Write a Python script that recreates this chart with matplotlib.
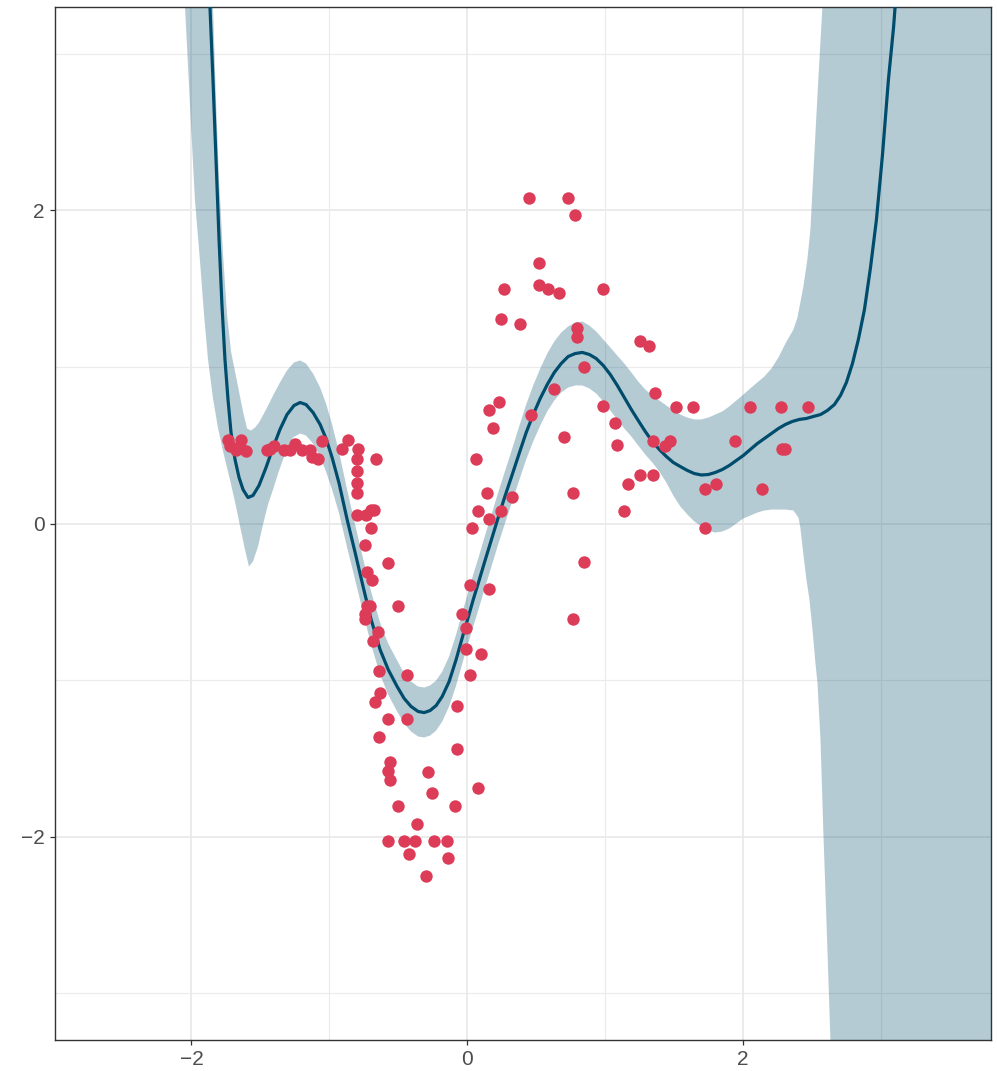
import matplotlib.pyplot as plt
import numpy as np

pt_x = [-1.737, -1.721, -1.679, -1.641, -1.607, -1.648, -1.454, -1.430, -1.401, -1.328,
        -1.285, -1.249, -1.198, -1.140, -1.127, -1.082, -1.053,
        -0.910, -0.862, -0.789, -0.801, -0.663, -0.801, -0.801, -0.801, -0.801, -0.735,
        -0.699, -0.679, -0.697, -0.740, -0.571, -0.728, -0.692, -0.704, -0.726, -0.499,
        -0.740, -0.740, -0.648, -0.680, -0.637, -0.438, 0.022, -0.632, -0.668, -0.075,
        -0.571, -0.438, -0.637, -0.075, -0.559, -0.571, -0.559, -0.285, -0.256, 0.082,
        -0.499, -0.087, -0.361, -0.576, -0.455, -0.377, -0.240, -0.147, -0.421, -0.136,
        -0.300,
        -0.038, -0.009, -0.009, 0.099, 0.022, 0.160, 0.034, 0.082, 0.160, 0.247, 0.143,
        0.325, 0.065, 0.187, 0.160, 0.234, 0.462, 0.632, 0.706, 0.767, 0.844, 0.767,
        0.844, 0.796, 0.796, 0.247, 0.385, 0.264, 0.523, 0.583, 0.663, 0.523, 0.982,
        0.445, 0.735, 0.779,
        0.982, 1.074, 1.087, 1.167, 1.135, 1.256, 1.316, 1.360, 1.256, 1.348, 1.348,
        1.437, 1.474, 1.515, 1.636, 1.728, 1.805, 1.728, 1.940, 2.049, 2.139, 2.277,
        2.473, 2.285, 2.309]
pt_y = [0.532, 0.498, 0.468, 0.532, 0.466, 0.490, 0.468, 0.473, 0.498, 0.468,
        0.468, 0.505, 0.468, 0.468, 0.422, 0.415, 0.526,
        0.473, 0.532, 0.473, 0.415, 0.415, 0.334, 0.256, 0.198, 0.053, 0.053,
        0.085, 0.085, -0.027, -0.139, -0.251, -0.309, -0.364, -0.524, -0.524, -0.524,
        -0.581, -0.613, -0.692, -0.748, -0.944, -0.971, -0.969, -1.082, -1.139, -1.167,
        -1.248, -1.248, -1.363, -1.440, -1.523, -1.583, -1.636, -1.585, -1.721, -1.691,
        -1.802, -1.802, -1.917, -2.026, -2.026, -2.026, -2.026, -2.026, -2.109, -2.136,
        -2.249,
        -0.581, -0.666, -0.805, -0.833, -0.390, -0.417, -0.027, 0.083, 0.026, 0.083, 0.196,
        0.168, 0.415, 0.607, 0.724, 0.775, 0.696, 0.861, 0.554, 0.196, -0.247, -0.609,
        0.999, 1.193, 1.250, 1.304, 1.276, 1.500, 1.527, 1.500, 1.470, 1.666, 1.500,
        2.081, 2.081, 1.968,
        0.750, 0.639, 0.500, 0.254, 0.083, 1.165, 1.133, 0.831, 0.307, 0.307, 0.526,
        0.498, 0.526, 0.746, 0.746, 0.222, 0.254, -0.027, 0.526, 0.746, 0.222, 0.746,
        0.746, 0.473, 0.473]

# fitted mean curve
fit_x = [-1.873, -1.866, -1.844, -1.822, -1.800, -1.779, -1.757, -1.735, -1.713, -1.684,
         -1.655, -1.626, -1.590, -1.554, -1.510, -1.459, -1.408, -1.358, -1.307, -1.256,
         -1.212, -1.169, -1.118, -1.067, -1.024, -0.980, -0.929, -0.871, -0.813, -0.755,
         -0.697, -0.632, -0.573, -0.508, -0.457, -0.407, -0.356, -0.312, -0.269, -0.225,
         -0.181, -0.131, -0.080, -0.029, 0.007, 0.044, 0.080, 0.123, 0.174, 0.225,
         0.276, 0.327, 0.377, 0.428, 0.479, 0.530, 0.581, 0.632, 0.682, 0.733,
         0.784, 0.835, 0.886, 0.936, 0.987, 1.038, 1.089, 1.140, 1.191, 1.241,
         1.292, 1.343, 1.394, 1.445, 1.495, 1.546, 1.597, 1.648, 1.699, 1.750,
         1.800, 1.851, 1.902, 1.953, 2.004, 2.054, 2.105, 2.156, 2.207, 2.258,
         2.309, 2.359, 2.410, 2.461, 2.512, 2.563, 2.613, 2.664, 2.708, 2.751,
         2.795, 2.838, 2.882, 2.926, 2.969, 3.013, 3.056, 3.093, 3.122]
fit_y = [3.540, 3.304, 2.837, 2.326, 1.815, 1.399, 1.048, 0.792, 0.581, 0.409,
         0.294, 0.217, 0.166, 0.179, 0.243, 0.358, 0.486, 0.601, 0.696, 0.754,
         0.773, 0.760, 0.709, 0.633, 0.543, 0.422, 0.256, 0.026, -0.185, -0.403,
         -0.613, -0.805, -0.933, -1.042, -1.118, -1.169, -1.201, -1.208, -1.195, -1.163,
         -1.105, -1.010, -0.869, -0.709, -0.601, -0.486, -0.383, -0.256, -0.109, 0.038,
         0.179, 0.313, 0.447, 0.581, 0.696, 0.799, 0.888, 0.965, 1.022, 1.067,
         1.086, 1.093, 1.080, 1.054, 1.010, 0.952, 0.882, 0.805, 0.728, 0.658,
         0.588, 0.524, 0.473, 0.428, 0.390, 0.364, 0.339, 0.319, 0.310, 0.313,
         0.326, 0.345, 0.371, 0.403, 0.435, 0.473, 0.511, 0.543, 0.575, 0.607,
         0.633, 0.652, 0.665, 0.671, 0.684, 0.696, 0.722, 0.760, 0.818, 0.901,
         1.022, 1.176, 1.367, 1.636, 1.942, 2.358, 2.837, 3.169, 3.508]

# confidence band, upper edge (left to right)
hi_x = [-1.851, -1.844, -1.822, -1.800, -1.771, -1.742, -1.713, -1.684, -1.655, -1.626,
        -1.597, -1.568, -1.539, -1.510, -1.459, -1.408, -1.358, -1.307, -1.256, -1.212,
        -1.169, -1.118, -1.067, -1.024, -0.980, -0.929, -0.871, -0.813, -0.755, -0.697,
        -0.632, -0.573, -0.508, -0.457, -0.407, -0.356, -0.312, -0.269, -0.225, -0.181,
        -0.131, -0.080, -0.029, 0.007, 0.044, 0.080, 0.123, 0.174, 0.225, 0.276,
        0.327, 0.377, 0.428, 0.479, 0.530, 0.581, 0.632, 0.682, 0.733, 0.784,
        0.835, 0.886, 0.936, 0.987, 1.038, 1.089, 1.140, 1.191, 1.241, 1.292,
        1.343, 1.394, 1.445, 1.495, 1.546, 1.597, 1.648, 1.699, 1.750, 1.800,
        1.851, 1.902, 1.953, 2.004, 2.054, 2.105, 2.156, 2.207, 2.258, 2.309,
        2.367, 2.396, 2.439, 2.468, 2.490, 2.512, 2.541, 2.577, 2.599, 3.900]
hi_y = [3.540, 3.304, 2.709, 2.198, 1.719, 1.335, 1.099, 0.971, 0.843, 0.716,
        0.607, 0.594, 0.613, 0.645, 0.728, 0.818, 0.901, 0.978, 1.029, 1.042,
        1.022, 0.958, 0.869, 0.767, 0.633, 0.454, 0.217, -0.006, -0.224, -0.435,
        -0.633, -0.767, -0.875, -0.958, -1.010, -1.042, -1.048, -1.035, -1.003, -0.946,
        -0.850, -0.709, -0.550, -0.441, -0.326, -0.224, -0.096, 0.051, 0.198, 0.339,
        0.479, 0.620, 0.760, 0.882, 0.990, 1.086, 1.163, 1.220, 1.259, 1.284,
        1.291, 1.265, 1.227, 1.176, 1.125, 1.073, 1.022, 0.965, 0.907, 0.856,
        0.818, 0.786, 0.754, 0.722, 0.696, 0.677, 0.665, 0.665, 0.677, 0.696,
        0.716, 0.748, 0.786, 0.824, 0.863, 0.901, 0.939, 0.990, 1.061, 1.150,
        1.240, 1.316, 1.514, 1.687, 1.879, 2.249, 2.735, 3.304, 3.668, 5.000]

# confidence band, lower edge (left to right)
lo_x = [-2.062, -2.047, -2.011, -1.975, -1.938, -1.909, -1.880, -1.844, -1.808, -1.764,
        -1.721, -1.677, -1.641, -1.612, -1.583, -1.554, -1.517, -1.481, -1.445, -1.408,
        -1.372, -1.336, -1.299, -1.263, -1.212, -1.169, -1.118, -1.067, -1.024, -0.980,
        -0.929, -0.871, -0.813, -0.755, -0.697, -0.632, -0.573, -0.508, -0.457, -0.407,
        -0.356, -0.312, -0.269, -0.225, -0.181, -0.131, -0.080, -0.029, 0.007, 0.044,
        0.080, 0.123, 0.174, 0.225, 0.276, 0.327, 0.377, 0.428, 0.479, 0.530,
        0.581, 0.632, 0.682, 0.733, 0.784, 0.835, 0.886, 0.936, 0.987, 1.038,
        1.089, 1.140, 1.191, 1.241, 1.292, 1.343, 1.394, 1.445, 1.495, 1.546,
        1.597, 1.648, 1.699, 1.750, 1.800, 1.851, 1.902, 1.953, 2.004, 2.054,
        2.105, 2.156, 2.207, 2.258, 2.309, 2.367, 2.403, 2.417, 2.439, 2.461,
        2.483, 2.505, 2.526, 2.541, 2.563, 2.584, 2.606, 2.635, 2.672, 3.900]
lo_y = [3.540, 3.304, 2.677, 2.070, 1.674, 1.335, 1.048, 0.800, 0.613, 0.435,
        0.281, 0.109, -0.045, -0.166, -0.275, -0.243, -0.147, -0.006, 0.121, 0.217,
        0.319, 0.409, 0.492, 0.550, 0.575, 0.562, 0.511, 0.428, 0.332, 0.217,
        0.064, -0.153, -0.358, -0.569, -0.773, -0.965, -1.093, -1.201, -1.278, -1.329,
        -1.361, -1.367, -1.355, -1.323, -1.265, -1.169, -1.035, -0.875, -0.767, -0.658,
        -0.556, -0.428, -0.281, -0.134, 0.006, 0.141, 0.275, 0.409, 0.524, 0.626,
        0.716, 0.786, 0.837, 0.869, 0.882, 0.882, 0.863, 0.831, 0.780, 0.722,
        0.665, 0.607, 0.556, 0.498, 0.441, 0.390, 0.332, 0.262, 0.179, 0.109,
        0.058, 0.013, -0.019, -0.045, -0.058, -0.051, -0.032, 0.000, 0.032, 0.051,
        0.070, 0.083, 0.089, 0.089, 0.089, 0.083, 0.038, -0.026, -0.198, -0.358,
        -0.486, -0.677, -0.888, -1.016, -1.380, -1.974, -2.530, -3.297, -4.319, -5.000]

line_col = "#004c6c"
point_col = "#dd3c58"

fig = plt.figure(figsize=(9.97, 10.71), dpi=100)
ax = fig.add_axes([55 / 997, 31 / 1071, 936 / 997, 1033 / 1071])

band_x = np.concatenate([hi_x, lo_x[::-1]])
band_y = np.concatenate([hi_y, lo_y[::-1]])
ax.fill(band_x, band_y, color=line_col, alpha=0.29, linewidth=0, zorder=2)
ax.plot(fit_x, fit_y, color=line_col, linewidth=2.3, solid_joinstyle="round", zorder=3)
ax.scatter(pt_x, pt_y, s=80, color=point_col, linewidths=0, zorder=4)

ax.set_xlim(-2.99, 3.80)
ax.set_ylim(-3.30, 3.30)
ax.set_xticks([-2, 0, 2])
ax.set_yticks([-2, 0, 2])
ax.set_xticks([-1, 1, 3], minor=True)
ax.set_yticks([-3, -1, 1, 3], minor=True)
ax.set_xticklabels(["\u22122", "0", "2"])
ax.set_yticklabels(["\u22122", "0", "2"])

ax.grid(which="major", color="#ebebeb", linewidth=1.4, zorder=0)
ax.grid(which="minor", color="#ebebeb", linewidth=0.8, zorder=0)
ax.set_axisbelow(True)

ax.tick_params(which="major", length=3.5, width=0.9, color="#333333",
               labelsize=15, labelcolor="#4d4d4d", pad=4)
ax.tick_params(which="minor", length=0)
for lbl in ax.get_xticklabels() + ax.get_yticklabels():
    lbl.set_fontfamily("Liberation Sans")
for sp in ax.spines.values():
    sp.set_color("#333333")
    sp.set_linewidth(1.0)

fig.savefig("out.png", dpi=100)
